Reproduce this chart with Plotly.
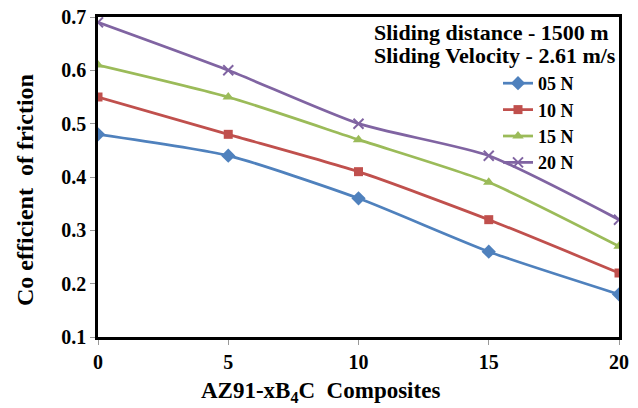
import plotly.graph_objects as go

x_vals = [0, 5, 10, 15, 20]
s05 = [0.48, 0.44, 0.36, 0.26, 0.18]
s10 = [0.55, 0.48, 0.41, 0.32, 0.22]
s15 = [0.61, 0.55, 0.47, 0.39, 0.27]
s20 = [0.69, 0.60, 0.50, 0.44, 0.32]
names = ["05 N", "10 N", "15 N", "20 N"]
colors = ["#4F81BD", "#C0504D", "#9BBB59", "#8064A2"]
symbols = ["diamond", "square", "triangle-up", "x-thin"]
sizes = [11, 9, 10, 10]

FONT = "'Times New Roman', 'Liberation Serif', serif"
fig = go.Figure()
for ys, nm, c, sym, sz in zip([s05, s10, s15, s20], names, colors, symbols, sizes):
    fig.add_trace(go.Scatter(
        x=x_vals, y=ys, name=nm, mode="lines+markers",
        line=dict(color=c, width=2.75, shape="spline", smoothing=0.6),
        marker=dict(symbol=sym, size=sz, color=c,
                    line=dict(color=c, width=2 if sym == "x-thin" else 0)),
    ))

L, R, T, B = 98, 19, 17, 71
W, H = 638, 408
pw, ph = W - L - R, H - T - B

def px_x(p):
    return (p - L) / pw

def px_y(p):
    return (H - B - p) / ph

fig.update_layout(
    width=W, height=H,
    margin=dict(l=L, r=R, t=T, b=B, autoexpand=False),
    paper_bgcolor="white", plot_bgcolor="white",
    font=dict(family=FONT, size=16, color="black"),
    showlegend=True,
    legend=dict(x=px_x(498), y=px_y(123), xanchor="left", yanchor="middle",
                font=dict(family=FONT, size=18, color="black", weight="bold"),
                bgcolor="rgba(0,0,0,0)", tracegroupgap=0, itemwidth=30),
    annotations=[
        dict(text="<b>Sliding distance - 1500 m</b>", x=px_x(372), y=px_y(32), xref="paper", yref="paper",
             xanchor="left", yanchor="middle", showarrow=False, font=dict(family=FONT, size=22)),
        dict(text="<b>Sliding Velocity - 2.61 m/s</b>", x=px_x(372), y=px_y(56), xref="paper", yref="paper",
             xanchor="left", yanchor="middle", showarrow=False, font=dict(family=FONT, size=22)),
        dict(text="<b>AZ91-xB<sub>4</sub>C  Composites</b>", x=px_x(320), y=px_y(392), xref="paper", yref="paper",
             xanchor="center", yanchor="middle", showarrow=False, font=dict(family=FONT, size=23)),
        dict(text="<b>Co efficient  of friction</b>", x=px_x(25), y=px_y(190), xref="paper", yref="paper",
             xanchor="center", yanchor="middle", showarrow=False, textangle=-90, font=dict(family=FONT, size=24)),
    ],
)
fig.update_xaxes(
    range=[0, 20], tickvals=x_vals, ticks="outside", ticklen=5, tickcolor="#999999",
    showgrid=False, zeroline=False, showline=True, linecolor="black", linewidth=2.5, mirror=True,
    tickfont=dict(family=FONT, size=20, weight="bold"), automargin=False,
)
fig.update_yaxes(
    range=[0.1, 0.7], dtick=0.1, tickformat=".1f", ticks="outside", ticklen=5, tickcolor="#999999",
    showgrid=False, zeroline=False, showline=True, linecolor="black", linewidth=2.5, mirror=True,
    tickfont=dict(family=FONT, size=20, weight="bold"), automargin=False,
)
fig.write_html("out.html", config={"displayModeBar": False},
               post_script="document.body.style.margin='0';document.body.style.padding='0';")
